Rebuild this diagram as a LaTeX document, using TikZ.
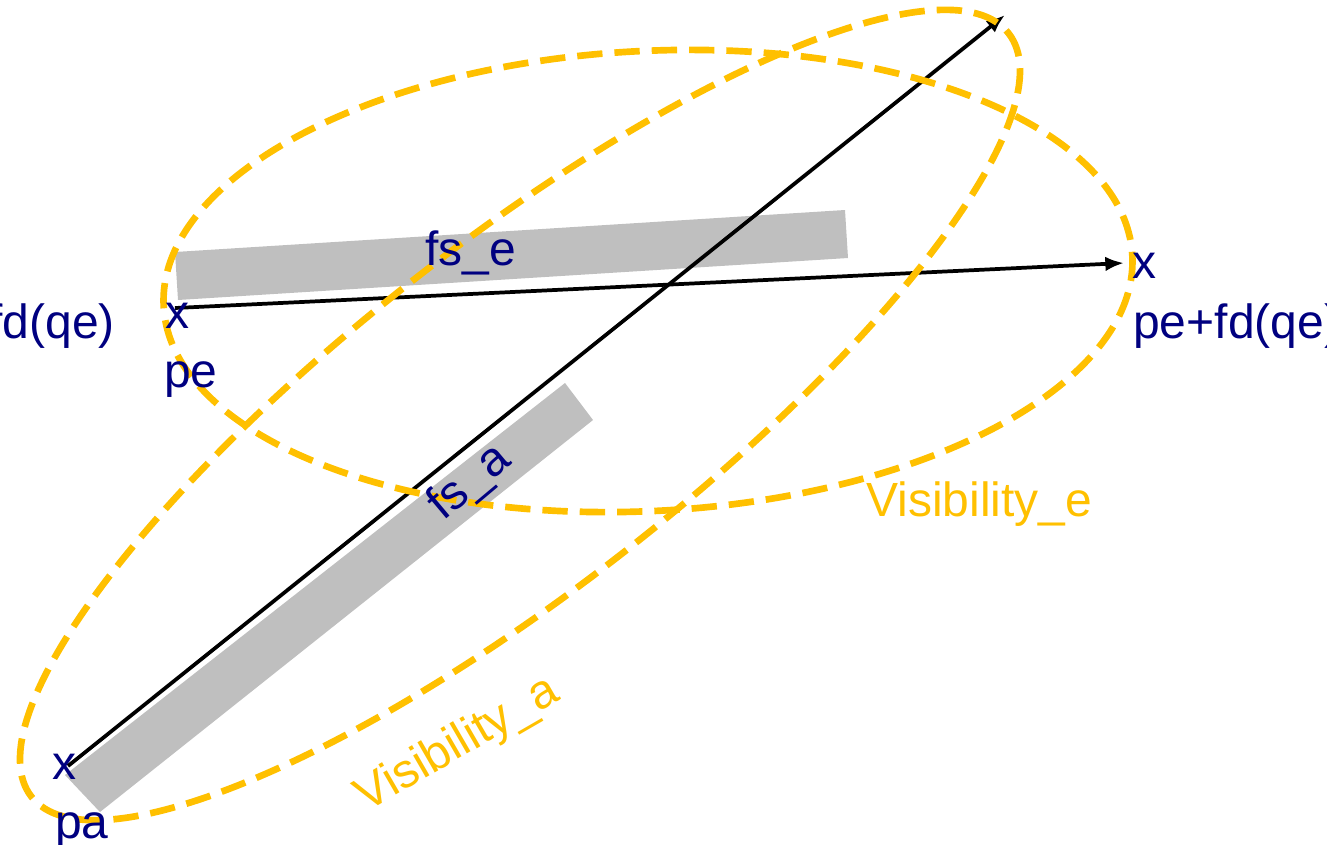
\documentclass[tikz,border=0pt]{standalone}
\usepackage{fontspec}
\setmainfont{Liberation Sans}
\usetikzlibrary{arrows.meta}
\definecolor{vis}{HTML}{FFC000}
\definecolor{navy}{HTML}{000080}
\definecolor{bar}{HTML}{BFBFBF}
\begin{document}
\begin{tikzpicture}[x=0.75pt,y=-0.75pt,
  visline/.style={draw=vis,line width=5pt,dash pattern=on 19pt off 9pt},
  barshape/.style={fill=bar,draw=none},
  vec/.style={draw=black,line width=2.8pt,-{Latex[length=14pt,width=11pt]}},
  lbl/.style={text=navy,inner sep=0pt,font=\fontsize{36}{43}\selectfont},
  vislbl/.style={text=vis,inner sep=0pt,font=\fontsize{36}{43}\selectfont}]
\useasboundingbox (0,0) rectangle (1327,844);
% gray bars
\fill[barshape] (175,252) -- (845,210) -- (848,258) -- (178,300) -- cycle;
\fill[barshape] (65,775) -- (565,383) -- (593,420) -- (100,812) -- cycle;
% anchor points
\coordinate (pa) at (68,766);
\coordinate (patip) at (1005,15);
\coordinate (pe) at (175,308);
\coordinate (petip) at (1124,263);
% vectors
\draw[vec] (pa) -- (patip);
\draw[vec] (pe) -- (petip);
% visibility ellipses
\draw[visline] (648,281) ellipse [x radius=485, y radius=230, rotate=3];
\draw[visline] (520,415) ellipse [x radius=620, y radius=172, rotate=38];
% labels
\node[lbl,anchor=center] (xpe) at (177,316) {x};
\node[lbl,anchor=base west] (lpe) at (164,387) {pe};
\node[lbl,anchor=base east] (lmin) at (115,338) {fd(qe)};
\node[lbl,anchor=center] (xpf) at (1144,266) {x};
\node[lbl,anchor=base west] (lplus) at (1133,338) {pe+fd(qe)};
\node[lbl,anchor=center] (xpa) at (64,767) {x};
\node[lbl,anchor=base west] (lpa) at (55,838) {pa};
\node[lbl,anchor=base west] (lfse) at (425,265) {fs\_e};
\node[lbl,anchor=center,rotate=40] (lfsa) at (470,483) {fs\_a};
\node[vislbl,anchor=base west] (lvise) at (866,516) {Visibility\_e};
\node[vislbl,anchor=center,rotate=30] (lvisa) at (458,745) {Visibility\_a};
\end{tikzpicture}
\end{document}
